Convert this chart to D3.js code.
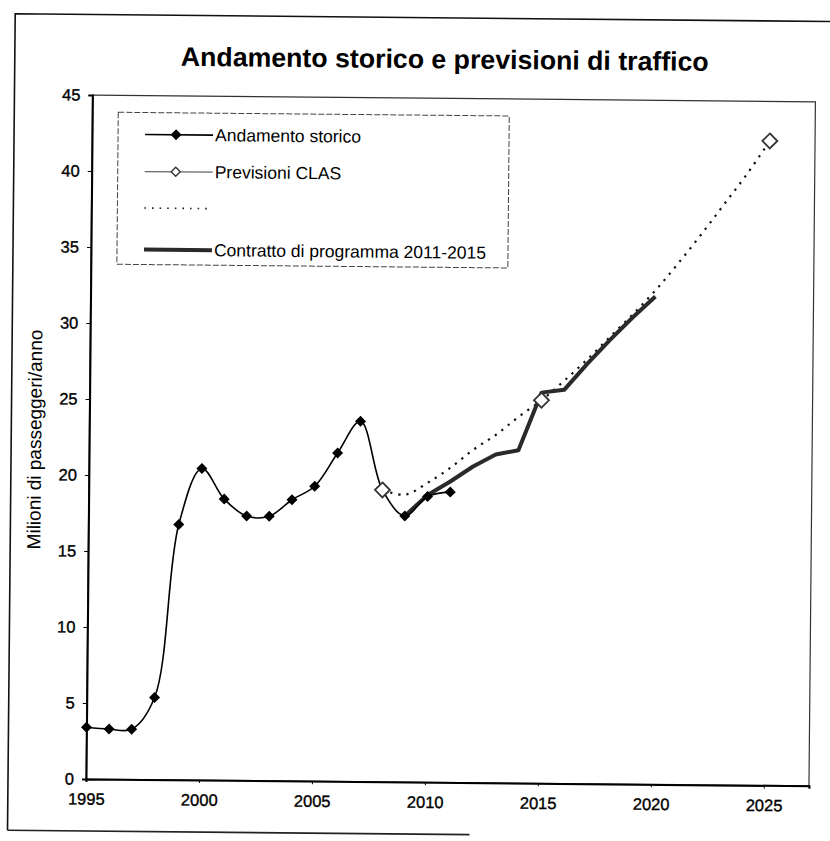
<!DOCTYPE html>
<html>
<head>
<meta charset="utf-8">
<script src="https://cdn.jsdelivr.net/npm/d3@7"></script>
<style>
  body { margin: 0; background: #fff; }
  svg { display: block; }
</style>
</head>
<body>
<svg id="chart" width="830" height="841"></svg>
<script>
// Traffico passeggeri (milioni/anno)
const storicoAnni = [1995, 1996, 1997, 1998, 1999, 2000, 2001, 2002, 2003, 2004, 2005, 2006, 2007, 2008, 2009, 2010, 2011];
const storicoValori = [3.4, 3.3, 3.3, 5.4, 16.8, 20.5, 18.5, 17.4, 17.4, 18.5, 19.4, 21.6, 23.7, 19.2, 17.5, 18.8, 19.1];

const clasAnni = [2008, 2015, 2025];
const clasValori = [19.2, 25.2, 42.4];

const tendenzaAnni = [2008, 2009, 2010, 2011, 2012, 2013, 2014, 2015, 2016, 2017, 2018, 2019, 2020, 2021, 2022, 2023, 2024, 2025];
const tendenzaValori = [19.2, 18.9, 19.7, 20.7, 21.9, 22.9, 24.1, 25.2, 26.5, 27.9, 29.4, 30.9, 32.5, 34.3, 36.2, 38.2, 40.2, 42.4];

const contrattoAnni = [2009, 2010, 2011, 2012, 2013, 2014, 2015, 2016, 2017, 2018, 2019, 2020];
const contrattoValori = [17.5, 18.9, 19.8, 20.8, 21.6, 21.9, 25.7, 25.9, 27.6, 29.2, 30.7, 32.1];

const xTicks = [1995, 2000, 2005, 2010, 2015, 2020, 2025];
const yTicks = [0, 5, 10, 15, 20, 25, 30, 35, 40, 45];

const titolo = "Andamento storico e previsioni di traffico";
const titoloAsseY = "Milioni di passeggeri/anno";
const legendaVoci = ["Andamento storico", "Previsioni CLAS", "", "Contratto di programma 2011-2015"];

const FONT = "'Liberation Sans', Arial, Helvetica, sans-serif";

const svg = d3.select("#chart");
// the whole sheet sits slightly tilted
const root = svg.append("g").attr("transform", "rotate(0.54, 86, 779)");

const x = d3.scaleLinear().domain([1995, 2027]).range([86, 809]);
const y = d3.scaleLinear().domain([0, 45]).range([779, 95]);

// outer frame
root.append("path")
  .attr("d", "M8,831 L8,14.5 L850,14.5")
  .attr("fill", "none").attr("stroke", "#111").attr("stroke-width", 1.6);
root.append("line")
  .attr("x1", 8).attr("x2", 470).attr("y1", 831).attr("y2", 831)
  .attr("stroke", "#222").attr("stroke-width", 1.6);

// title
root.append("text")
  .attr("x", 438).attr("y", 65)
  .attr("text-anchor", "middle")
  .attr("font-family", FONT).attr("font-weight", "bold").attr("font-size", 26.7)
  .attr("fill", "#000")
  .text(titolo);

// plot area border
root.append("rect")
  .attr("x", x.range()[0]).attr("y", y.range()[1])
  .attr("width", x.range()[1] - x.range()[0]).attr("height", y.range()[0] - y.range()[1])
  .attr("fill", "none").attr("stroke", "#333").attr("stroke-width", 1.2);

// axes
const xAxis = d3.axisBottom(x).tickValues(xTicks).tickFormat(d3.format("d")).tickSize(3).tickPadding(11);
const yAxis = d3.axisLeft(y).tickValues(yTicks).tickFormat(d3.format("d")).tickSize(4).tickPadding(8);

const gx = root.append("g").attr("transform", `translate(0,${y(0)})`).call(xAxis);
const gy = root.append("g").attr("transform", `translate(${x(1995)},0)`).call(yAxis);
[gx, gy].forEach(g => {
  g.select(".domain").attr("stroke", "#000").attr("stroke-width", 2);
  g.selectAll(".tick line").attr("stroke", "#000").attr("stroke-width", 1);
  g.selectAll(".tick text")
    .attr("font-family", FONT).attr("font-size", 16.5).attr("fill", "#000")
    .attr("stroke", "#000").attr("stroke-width", 0.35);
});

// y axis title
root.append("text")
  .attr("transform", "translate(38,440) rotate(-90)")
  .attr("text-anchor", "middle")
  .attr("font-family", FONT).attr("font-size", 19).attr("fill", "#000")
  .text(titoloAsseY);

const smooth = d3.line().curve(d3.curveCatmullRom.alpha(0.5));
const straight = d3.line();

const diamond = r => `M0,${-r}L${r},0L0,${r}L${-r},0Z`;

// dotted forecast trend
root.append("path")
  .attr("d", smooth(tendenzaAnni.map((a, i) => [x(a), y(tendenzaValori[i])])))
  .attr("fill", "none").attr("stroke", "#111").attr("stroke-width", 2.2)
  .attr("stroke-dasharray", "2.2,6").attr("stroke-linecap", "butt");

// programme contract
root.append("path")
  .attr("d", straight(contrattoAnni.map((a, i) => [x(a), y(contrattoValori[i])])))
  .attr("fill", "none").attr("stroke", "#2a2a2a").attr("stroke-width", 4)
  .attr("stroke-linejoin", "round");

// historical traffic
root.append("path")
  .attr("d", smooth(storicoAnni.map((a, i) => [x(a), y(storicoValori[i])])))
  .attr("fill", "none").attr("stroke", "#000").attr("stroke-width", 1.6);
root.append("g").selectAll("path")
  .data(storicoAnni.map((a, i) => [a, storicoValori[i]]))
  .join("path")
  .attr("transform", d => `translate(${x(d[0])},${y(d[1])})`)
  .attr("d", diamond(5.5))
  .attr("fill", "#000");

// CLAS forecasts
root.append("g").selectAll("path")
  .data(clasAnni.map((a, i) => [a, clasValori[i]]))
  .join("path")
  .attr("transform", d => `translate(${x(d[0])},${y(d[1])})`)
  .attr("d", diamond(7.5))
  .attr("fill", "#fff").attr("stroke", "#333").attr("stroke-width", 1.8);

// legend
const leg = root.append("g");
leg.append("rect")
  .attr("x", 112).attr("y", 112).attr("width", 391).attr("height", 152)
  .attr("fill", "#fff").attr("stroke", "#444").attr("stroke-width", 1)
  .attr("stroke-dasharray", "6,2");
const rowsY = [134, 171, 207.5, 249];
const lx1 = 139, lx2 = 207;

leg.append("line").attr("x1", lx1).attr("x2", lx2).attr("y1", rowsY[0]).attr("y2", rowsY[0])
  .attr("stroke", "#000").attr("stroke-width", 1.6);
leg.append("path").attr("transform", `translate(${(lx1 + lx2) / 2 - 3},${rowsY[0]})`)
  .attr("d", diamond(5.5)).attr("fill", "#000");

leg.append("line").attr("x1", lx1).attr("x2", lx2).attr("y1", rowsY[1]).attr("y2", rowsY[1])
  .attr("stroke", "#666").attr("stroke-width", 1.2);
leg.append("path").attr("transform", `translate(${(lx1 + lx2) / 2 - 3},${rowsY[1]})`)
  .attr("d", diamond(4.5)).attr("fill", "#fff").attr("stroke", "#333").attr("stroke-width", 1.4);

leg.append("line").attr("x1", lx1).attr("x2", lx2).attr("y1", rowsY[2]).attr("y2", rowsY[2])
  .attr("stroke", "#222").attr("stroke-width", 1.6).attr("stroke-dasharray", "1.6,6");

leg.append("line").attr("x1", lx1).attr("x2", lx2).attr("y1", rowsY[3]).attr("y2", rowsY[3])
  .attr("stroke", "#2a2a2a").attr("stroke-width", 4);

leg.selectAll("text.voce")
  .data(legendaVoci)
  .join("text")
  .attr("class", "voce")
  .attr("x", lx2 + 2).attr("y", (d, i) => rowsY[i] + 6)
  .attr("font-family", FONT).attr("font-size", 17.5).attr("fill", "#000")
  .text(d => d);
</script>
</body>
</html>
